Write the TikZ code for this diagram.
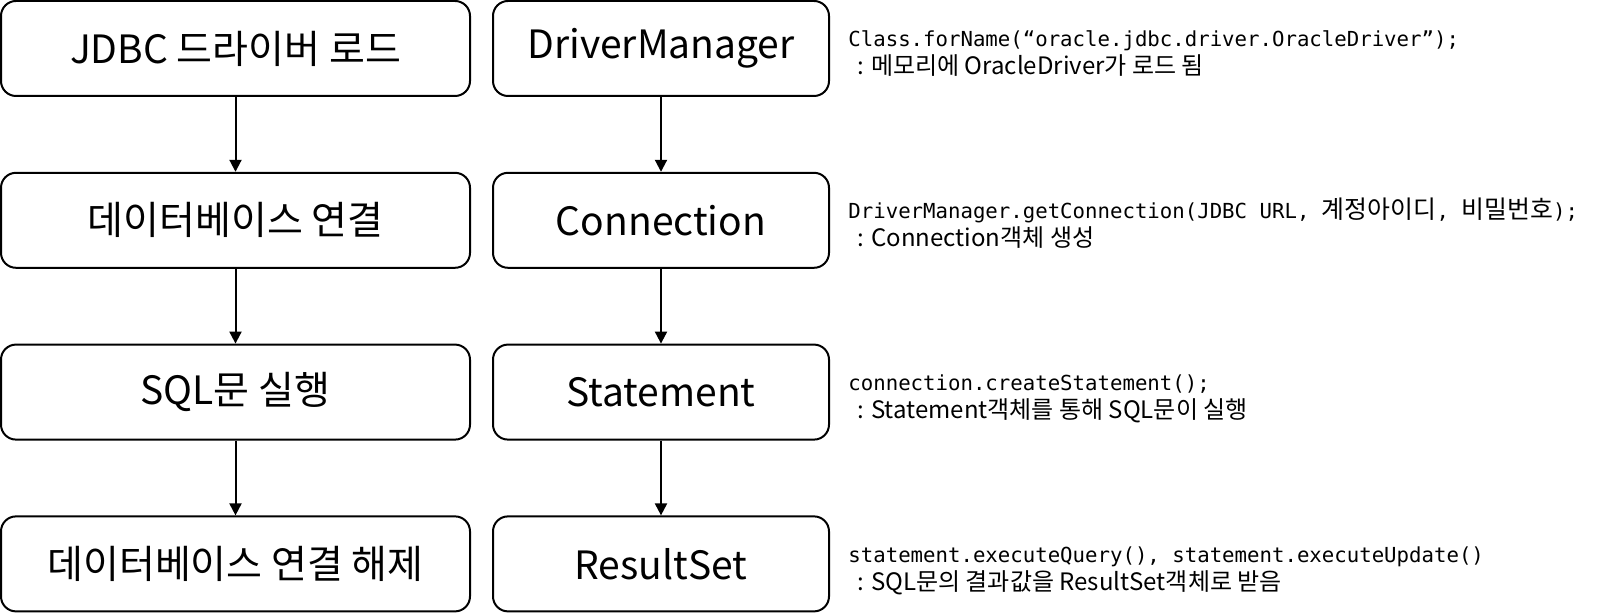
\documentclass[tikz,border=0pt]{standalone}
\usepackage{fontspec}
\setmainfont{Noto Sans CJK KR}
\setmonofont{DejaVu Sans Mono}
\newfontfamily\krfont{Noto Sans CJK KR}
\usetikzlibrary{arrows.meta}

\newcommand{\kr}[1]{{\krfont\fontsize{12.45pt}{14pt}\selectfont #1}}

\begin{document}
\begin{tikzpicture}[x=0.5pt, y=-0.5pt, >={Triangle[length=6pt,width=6pt]},
  every box/.style={draw, line width=1pt, rounded corners=7.5pt, minimum height=47.5pt,
    inner sep=0pt, font=\fontsize{19.5pt}{22pt}\selectfont},
  stage/.style={minimum width=234.5pt},
  object/.style={minimum width=168pt},
  code/.style={anchor=base west, inner sep=0pt, font=\ttfamily\fontsize{10.35pt}{12pt}\selectfont},
  note/.style={anchor=base west, inner sep=0pt, font=\fontsize{12pt}{14pt}\selectfont}]

\useasboundingbox (0,0) rectangle (1608,613);

\foreach \l [count=\y from 0] in {JDBC 드라이버 로드, 데이터베이스 연결, SQL문 실행, 데이터베이스 연결 해제}
  \node [every box/.try, stage] (stage-\y) at (235.5,48.5+\y*171.8) {\l};

\foreach \l [count=\y from 0] in {DriverManager, Connection, Statement, ResultSet}
  \node [every box/.try, object] (object-\y) at (661,48.5+\y*171.8) {\l};

\foreach \i [count=\j] in {0,1,2}
  \draw [->, line width=1pt] (stage-\i) -- (stage-\j);

\foreach \i [count=\j] in {0,1,2}
  \draw [->, line width=1pt] (object-\i) -- (object-\j);

\node [code] (code-0) at (848,47) {Class.forName(“oracle.jdbc.driver.OracleDriver”);};
\node [code] (code-1) at (848,218.8) {DriverManager.getConnection(JDBC URL, \kr{계정아이디}, \kr{비밀번호});};
\node [code] (code-2) at (848,390.6) {connection.createStatement();};
\node [code] (code-3) at (848,562.4) {statement.executeQuery(), statement.executeUpdate()};

\foreach \l [count=\y from 0] in {: 메모리에 OracleDriver가 로드 됨, : Connection객체 생성,
    : Statement객체를 통해 SQL문이 실행, : SQL문의 결과값을 ResultSet객체로 받음}
  \node [note] (note-\y) at (857,75+\y*171.8) {\l};

\end{tikzpicture}
\end{document}
